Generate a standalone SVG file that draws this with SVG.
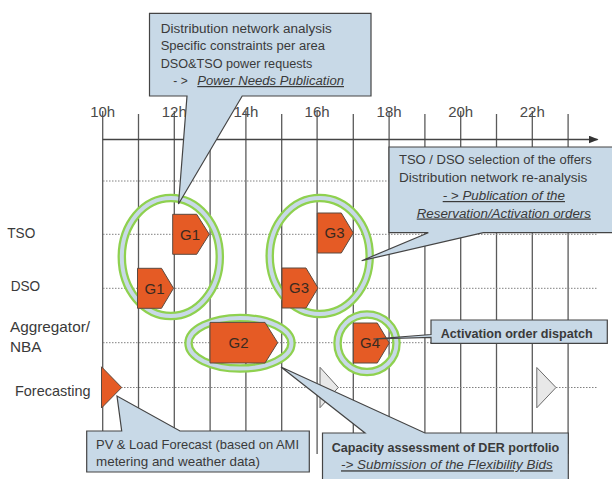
<svg xmlns="http://www.w3.org/2000/svg" width="612" height="479" viewBox="0 0 612 479">
<defs>
<style>
text{font-family:"Liberation Sans",Arial,sans-serif;fill:#3a3a3a}
.vl{stroke:#5a5a5a;stroke-width:1.3;fill:none}
.dl{stroke:#808080;stroke-width:1;stroke-dasharray:1.5 1.5;fill:none}
.ax{font-size:15px;fill:#4a4a4a;text-anchor:middle}
.lab{font-size:14.5px}
.ring-o{fill:none;stroke:#8fd14f;stroke-width:8.5}
.ring-i{fill:none;stroke:#c8d9e7;stroke-width:4}
.g{fill:#e55b25;stroke:#5a4a40;stroke-width:1}
.gt{font-size:15px;fill:#3a2a20;text-anchor:middle}
.tri{fill:#e8e8e8;stroke:#6a6a6a;stroke-width:1}
.co{fill:#c8d9e7;stroke:#444;stroke-width:1.2}
.ct{font-size:12px}
.c13{font-size:13px}
.cb{font-size:13px;font-weight:bold}
.ul{font-style:italic;text-decoration:underline}
</style>
<marker id="arr" markerWidth="10" markerHeight="8" refX="9" refY="4" orient="auto" markerUnits="userSpaceOnUse">
<path d="M0,0 L10,4 L0,8 Z" fill="#333"/>
</marker>
</defs>
<rect width="612" height="479" fill="#fff"/>

<g id="timeline">
<g class="vl">
<line x1="102.7" y1="111" x2="102.7" y2="454"/>
<line x1="138.5" y1="114" x2="138.5" y2="454"/>
<line x1="174.3" y1="111" x2="174.3" y2="454"/>
<line x1="210.1" y1="114" x2="210.1" y2="454"/>
<line x1="245.9" y1="111" x2="245.9" y2="454"/>
<line x1="281.7" y1="114" x2="281.7" y2="454"/>
<line x1="317.1" y1="111" x2="317.1" y2="454"/>
<line x1="353.3" y1="114" x2="353.3" y2="454"/>
<line x1="389.1" y1="111" x2="389.1" y2="454"/>
<line x1="424.9" y1="114" x2="424.9" y2="454"/>
<line x1="460.7" y1="111" x2="460.7" y2="454"/>
<line x1="496.5" y1="114" x2="496.5" y2="454"/>
<line x1="532.3" y1="111" x2="532.3" y2="454"/>
<line x1="568.1" y1="114" x2="568.1" y2="454"/>
</g>
<line x1="102.7" y1="139.5" x2="597.5" y2="139.5" stroke="#444" stroke-width="1.3" marker-end="url(#arr)"/>
<g class="dl">
<line x1="103" y1="181" x2="598" y2="181"/>
<line x1="103" y1="234.3" x2="598" y2="234.3"/>
<line x1="103" y1="288.3" x2="598" y2="288.3"/>
<line x1="103" y1="342.7" x2="598" y2="342.7"/>
<line x1="103" y1="387.5" x2="598" y2="387.5"/>
</g>
<text class="ax" x="102.7" y="116.5">10h</text>
<text class="ax" x="174.3" y="116.5">12h</text>
<text class="ax" x="245.9" y="116.5">14h</text>
<text class="ax" x="317.1" y="116.5">16h</text>
<text class="ax" x="389.1" y="116.5">18h</text>
<text class="ax" x="460.7" y="116.5">20h</text>
<text class="ax" x="532.3" y="116.5">22h</text>
</g>

<g id="row-labels">
<text class="lab" x="7.3" y="237.5" textLength="28" lengthAdjust="spacingAndGlyphs">TSO</text>
<text class="lab" x="10.7" y="291" textLength="29.5" lengthAdjust="spacingAndGlyphs">DSO</text>
<text class="lab" x="10" y="331.5" textLength="80" lengthAdjust="spacingAndGlyphs">Aggregator/</text>
<text class="lab" x="10" y="352" textLength="31.5" lengthAdjust="spacingAndGlyphs">NBA</text>
<text class="lab" x="15" y="395.5" textLength="75.5" lengthAdjust="spacingAndGlyphs">Forecasting</text>
</g>

<g id="group-G1">
<ellipse class="ring-o" cx="170.8" cy="257" rx="49" ry="59"/>
<ellipse class="ring-i" cx="170.8" cy="257" rx="49" ry="59"/>
</g>
<g id="group-G3">
<ellipse class="ring-o" cx="319.7" cy="256" rx="50" ry="58"/>
<ellipse class="ring-i" cx="319.7" cy="256" rx="50" ry="58"/>
</g>
<g id="group-G2">
<ellipse class="ring-o" cx="240" cy="343.3" rx="51.5" ry="25.3"/>
<ellipse class="ring-i" cx="240" cy="343.3" rx="51.5" ry="25.3"/>
</g>
<g id="group-G4">
<ellipse class="ring-o" cx="367" cy="343.3" rx="29.5" ry="28.8"/>
<ellipse class="ring-i" cx="367" cy="343.3" rx="29.5" ry="28.8"/>
</g>

<g id="G1-TSO">
<path class="g" d="M172.7,214.3 h24 l12.6,20 l-12.6,20 h-24 z"/>
<text class="gt" x="190" y="239.5">G1</text>
</g>
<g id="G1-DSO">
<path class="g" d="M137.5,268.3 h24 l12,20 l-12,20 h-24 z"/>
<text class="gt" x="154.5" y="293.5">G1</text>
</g>
<g id="G3-TSO">
<path class="g" d="M317.3,213 h24 l12,20 l-12,20 h-24 z"/>
<text class="gt" x="334.5" y="238.2">G3</text>
</g>
<g id="G3-DSO">
<path class="g" d="M282,268 h24 l12,20 l-12,20 h-24 z"/>
<text class="gt" x="299" y="293.2">G3</text>
</g>
<g id="G2">
<path class="g" d="M210,322.4 h55 l12.7,20.3 l-12.7,20.3 h-55 z"/>
<text class="gt" x="238.5" y="348">G2</text>
</g>
<g id="G4">
<path class="g" d="M353.3,323 h24 l12,20 l-12,20 h-24 z"/>
<text class="gt" x="370" y="348.2">G4</text>
</g>
<g id="forecast">
<path class="g" d="M101.5,366.8 L121.7,387.5 L101.5,408 Z"/>
</g>
<g id="future-slots">
<path class="tri" d="M320,367.3 L338.3,387.5 L320,407.7 Z"/>
<path class="tri" d="M536.8,367.5 L556,387.5 L536.8,407.8 Z"/>
</g>

<g id="connectors">
<g id="callout-power-needs">
<path class="co" d="M149.5,13.3 H371 V96 H242.2 L178.5,204 L187,96 H149.5 Z"/>
<text class="ct" x="160.7" y="32.5" textLength="171" lengthAdjust="spacingAndGlyphs">Distribution network analysis</text>
<text class="ct" x="160.7" y="50" textLength="164.3" lengthAdjust="spacingAndGlyphs">Specific constraints per area</text>
<text class="ct" x="160.7" y="67.5" textLength="151.7" lengthAdjust="spacingAndGlyphs">DSO&amp;TSO power requests</text>
<text class="ct" x="173.3" y="85">- &gt;</text>
<text class="ct ul" x="197.3" y="85" textLength="146.7" lengthAdjust="spacingAndGlyphs">Power Needs Publication</text>
</g>
<g id="callout-selection">
<path class="co" d="M389,147 H616 V232.7 H483.3 L361.7,260.7 L428.3,232.7 H389 Z"/>
<text class="ct" x="399" y="164" textLength="192.7" lengthAdjust="spacingAndGlyphs">TSO / DSO selection of the offers</text>
<text class="ct" x="399" y="182" textLength="188.3" lengthAdjust="spacingAndGlyphs">Distribution network re-analysis</text>
<text class="ct ul" x="442.7" y="200" textLength="122.3" lengthAdjust="spacingAndGlyphs">- &gt; Publication of the</text>
<text class="ct ul" x="416.7" y="217.5" textLength="174.3" lengthAdjust="spacingAndGlyphs">Reservation/Activation orders</text>
</g>
<g id="callout-activation">
<path class="co" d="M431,320 H607.3 V343.3 H431 V337.3 L373.3,339 L431,334.5 Z"/>
<text class="cb" x="440.7" y="338" textLength="152" lengthAdjust="spacingAndGlyphs">Activation order dispatch</text>
</g>
<g id="callout-forecast">
<path class="co" d="M86.7,431 H121.7 L117,396 L180,431 H309.3 V472 H86.7 Z"/>
<text class="c13" x="96" y="449.3" textLength="203" lengthAdjust="spacingAndGlyphs">PV &amp; Load Forecast (based on AMI</text>
<text class="c13" x="96" y="466.3" textLength="164" lengthAdjust="spacingAndGlyphs">metering and weather data)</text>
</g>
<g id="callout-capacity">
<path class="co" d="M322.5,433 H365 L281,367 L425,433 H568.3 V486 H322.5 Z"/>
<text class="cb" x="331.7" y="451.7" textLength="227.6" lengthAdjust="spacingAndGlyphs">Capacity assessment of DER portfolio</text>
<text class="c13 ul" x="341" y="469.3" textLength="211.7" lengthAdjust="spacingAndGlyphs">-&gt; Submission of the Flexibility Bids</text>
</g>
</g>
</svg>
